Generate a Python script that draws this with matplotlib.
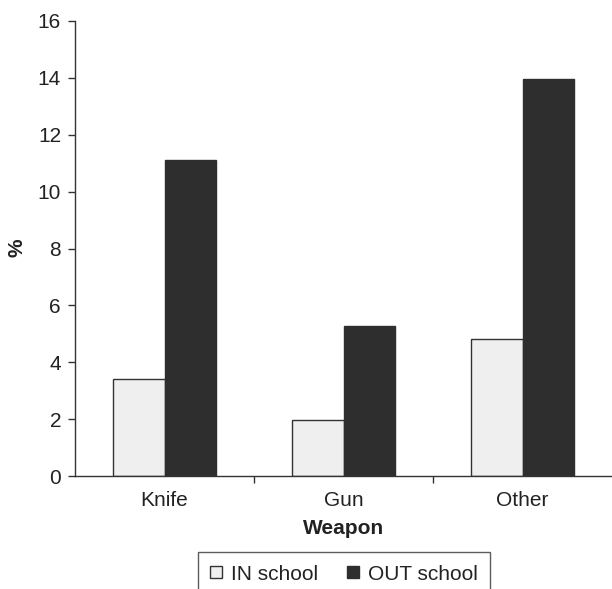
import matplotlib
matplotlib.use("Agg")
import matplotlib.pyplot as plt
import numpy as np

plt.rcParams['font.family'] = ['Liberation Sans', 'DejaVu Sans']

categories = ["Knife", "Gun", "Other"]
in_school = [3.42, 1.96, 4.82]
out_school = [11.12, 5.29, 13.95]
series_labels = ["IN school", "OUT school"]
yticks = [0, 2, 4, 6, 8, 10, 12, 14, 16]

fig = plt.figure(figsize=(6.12, 5.89), dpi=100)
W, H = 612, 589
ax = fig.add_axes([75 / W, 1 - 476 / H, (612 - 75) / W, (476 - 21) / H])

x = np.arange(len(categories))
w = 0.29
txt = '#222222'
fs = 15
ax.bar(x - w / 2, in_school, w, color='#efefef', edgecolor='#333333', linewidth=1.0,
       label=series_labels[0], zorder=2)
ax.bar(x + w / 2, out_school, w, color='#2e2e2e', edgecolor='#2e2e2e', linewidth=1.0,
       label=series_labels[1], zorder=2)

ax.set_xlim(-0.5, len(categories) - 0.5)
ax.set_ylim(0, 16)
ax.set_yticks(yticks)
ax.set_yticklabels([str(t) for t in yticks], fontsize=fs, color=txt)
ax.set_xticks(x)
ax.set_xticklabels(categories, fontsize=fs, color=txt)
ax.tick_params(axis='x', length=0, pad=11)
ax.set_xticks([0.5, 1.5], minor=True)
ax.tick_params(axis='x', which='minor', length=5, width=1, color='#333333', direction='out')
ax.tick_params(axis='y', length=5, width=1, color='#333333', direction='out', pad=5)
for s in ['top', 'right']:
    ax.spines[s].set_visible(False)
for s in ['left', 'bottom']:
    ax.spines[s].set_color('#333333')
    ax.spines[s].set_linewidth(1.0)

fig.text(344 / W, 1 - 529 / H, "Weapon", ha='center', va='center',
         fontsize=fs, fontweight='bold', color=txt)
fig.text(17 / W, 1 - 248 / H, "%", ha='center', va='center', rotation=90,
         fontsize=fs, fontweight='bold', color=txt)

leg = fig.legend(loc='upper center', bbox_to_anchor=(344 / W, 1 - 552 / H), ncol=2,
                 fontsize=fs, frameon=True, fancybox=False, edgecolor='#333333',
                 handlelength=0.55, handleheight=0.55, handletextpad=0.45, columnspacing=1.4,
                 borderpad=0.6, borderaxespad=0)
leg.get_frame().set_linewidth(1.0)
for t in leg.get_texts():
    t.set_color(txt)

fig.savefig("out.png", dpi=100)
